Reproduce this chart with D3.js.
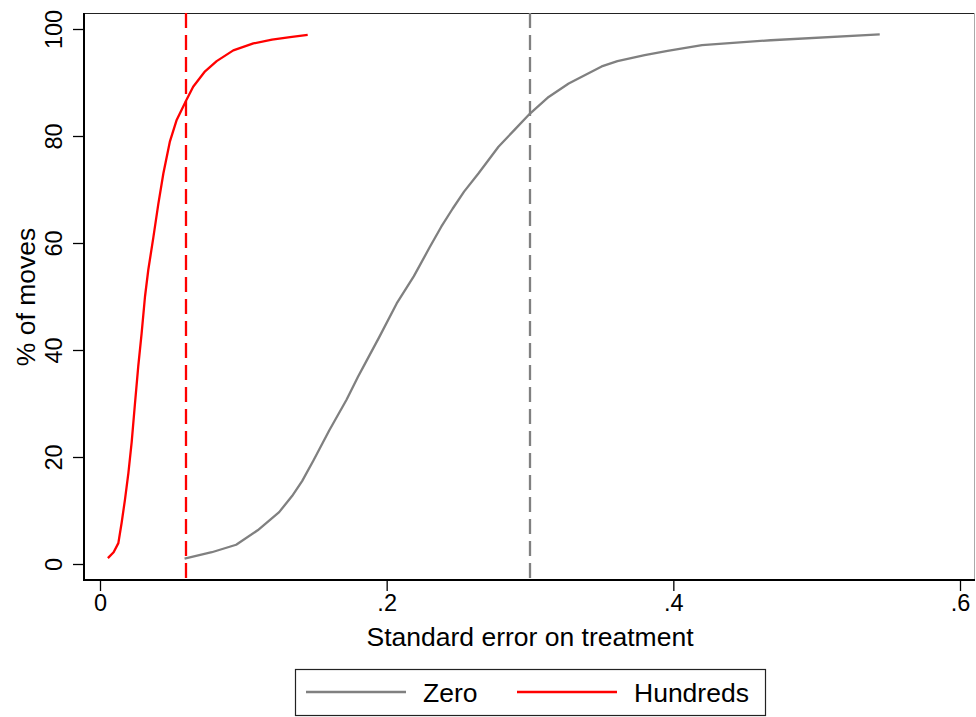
<!DOCTYPE html>
<html lang="en">
<head>
    <meta charset="UTF-8">
    <title>Standard error on treatment</title>
    <script src="https://cdnjs.cloudflare.com/ajax/libs/d3/7.8.5/d3.min.js"></script>
    <style>
        body {
            margin: 0;
            background-color: white;
            font-family: "Liberation Sans", Arial, Helvetica, sans-serif;
        }
        svg { display: block; }
    </style>
</head>
<body>
    <div id="chart"></div>

    <script>
        // Cumulative share of moves by standard error
        const zeroSE = [0.059, 0.078, 0.095, 0.110, 0.125, 0.134, 0.141, 0.149, 0.160, 0.172, 0.180, 0.185,
                        0.195, 0.207, 0.219, 0.230, 0.238, 0.246, 0.254, 0.264, 0.278, 0.289, 0.300, 0.313,
                        0.327, 0.350, 0.361, 0.380, 0.396, 0.420, 0.468, 0.544];
        const zeroPct = [1, 2.2, 3.6, 6.3, 9.7, 12.7, 15.5, 19.4, 25.0, 30.7, 35.0, 37.5,
                         42.5, 48.7, 53.8, 59.2, 63.0, 66.4, 69.6, 73.0, 78.0, 81.1, 84.2, 87.3,
                         89.8, 93.0, 94.0, 95.1, 95.9, 97.0, 97.9, 99.0];

        const hundredsSE = [0.0055, 0.0095, 0.0128, 0.0151, 0.0174, 0.0198, 0.0221, 0.0244, 0.0267, 0.029, 0.0314,
                            0.0337, 0.0372, 0.0407, 0.0442, 0.0488, 0.0535, 0.0602, 0.065, 0.0733, 0.0814,
                            0.093, 0.107, 0.12, 0.1326, 0.1449];
        const hundredsPct = [1.1, 2.2, 3.9, 7.7, 12, 17, 22.8, 30, 37, 43, 50,
                             55, 61, 67.3, 73, 79, 83, 86.7, 89.2, 92.1, 94,
                             96, 97.3, 98, 98.5, 98.9];

        const seriesNames = ["Zero", "Hundreds"];
        const seriesColors = ["#808080", "#ff0000"];
        const refLines = [0.3, 0.06];   // dashed vertical markers, one per series

        const xTicks = [0, 0.2, 0.4, 0.6];
        const xTickLabels = ["0", ".2", ".4", ".6"];
        const yTicks = [0, 20, 40, 60, 80, 100];

        const width = 976, height = 717;
        const plot = { left: 84, right: 975, top: 13, bottom: 580 };

        const svg = d3.select("#chart").append("svg")
            .attr("width", width)
            .attr("height", height);

        const x = d3.scaleLinear().domain([0, 0.6]).range([100, 960]);
        const y = d3.scaleLinear().domain([0, 100]).range([564, 29]);

        // plot region outline (top dark, right light)
        svg.append("line")
            .attr("x1", plot.left).attr("x2", plot.right)
            .attr("y1", plot.top + 0.5).attr("y2", plot.top + 0.5)
            .attr("stroke", "#222").attr("stroke-width", 1.2);
        svg.append("line")
            .attr("x1", plot.right - 0.5).attr("x2", plot.right - 0.5)
            .attr("y1", plot.top).attr("y2", plot.bottom)
            .attr("stroke", "#aaa").attr("stroke-width", 1);

        const series = [
            { name: seriesNames[0], color: seriesColors[0], se: zeroSE, pct: zeroPct, ref: refLines[0] },
            { name: seriesNames[1], color: seriesColors[1], se: hundredsSE, pct: hundredsPct, ref: refLines[1] }
        ];

        // dashed reference lines
        series.forEach(s => {
            svg.append("line")
                .attr("x1", x(s.ref)).attr("x2", x(s.ref))
                .attr("y1", plot.top).attr("y2", plot.bottom)
                .attr("stroke", s.color)
                .attr("stroke-width", 2.3)
                .attr("stroke-dasharray", "15,7");
        });

        // curves
        const line = d3.line()
            .x(d => x(d[0]))
            .y(d => y(d[1]));

        series.forEach(s => {
            svg.append("path")
                .datum(s.se.map((v, i) => [v, s.pct[i]]))
                .attr("d", line)
                .attr("fill", "none")
                .attr("stroke", s.color)
                .attr("stroke-width", 2.3)
                .attr("stroke-linejoin", "round");
        });

        // x axis
        const xAxis = svg.append("g")
            .attr("transform", `translate(0,${plot.bottom})`)
            .call(d3.axisBottom(x).tickValues(xTicks)
                .tickFormat((d, i) => xTickLabels[i]).tickSize(11).tickPadding(3));
        xAxis.select(".domain").remove();
        xAxis.append("line")
            .attr("x1", plot.left).attr("x2", plot.right)
            .attr("stroke", "black").attr("stroke-width", 2);
        xAxis.selectAll(".tick line").attr("stroke", "black").attr("stroke-width", 1.3);
        xAxis.selectAll(".tick text")
            .attr("fill", "black")
            .style("font-size", "23.5px")
            .style("font-family", "'Liberation Sans', Arial, sans-serif");

        // y axis
        const yAxis = svg.append("g")
            .attr("transform", `translate(${plot.left},0)`)
            .call(d3.axisLeft(y).tickValues(yTicks).tickSize(11).tickPadding(0));
        yAxis.select(".domain").remove();
        yAxis.append("line")
            .attr("y1", plot.top).attr("y2", plot.bottom + 1)
            .attr("stroke", "black").attr("stroke-width", 2);
        yAxis.selectAll(".tick line").attr("stroke", "black").attr("stroke-width", 1.3);
        yAxis.selectAll(".tick text")
            .attr("x", null).attr("dy", null)
            .attr("transform", "translate(-22,0) rotate(-90)")
            .attr("text-anchor", "middle")
            .attr("fill", "black")
            .style("font-size", "23.5px")
            .style("font-family", "'Liberation Sans', Arial, sans-serif");

        // axis titles
        svg.append("text")
            .attr("x", 530).attr("y", 646)
            .attr("text-anchor", "middle")
            .style("font-size", "26.5px")
            .text("Standard error on treatment");

        svg.append("text")
            .attr("transform", "translate(35,297) rotate(-90)")
            .attr("text-anchor", "middle")
            .style("font-size", "26.5px")
            .text("% of moves");

        // legend
        const legend = svg.append("g");
        legend.append("rect")
            .attr("x", 295.5).attr("y", 669.5)
            .attr("width", 470).attr("height", 46)
            .attr("fill", "white")
            .attr("stroke", "#222").attr("stroke-width", 1.2);

        const legendX = [306, 517];
        series.forEach((s, i) => {
            legend.append("line")
                .attr("x1", legendX[i]).attr("x2", legendX[i] + 100)
                .attr("y1", 692).attr("y2", 692)
                .attr("stroke", s.color).attr("stroke-width", 2.3);
            legend.append("text")
                .attr("x", legendX[i] + 117).attr("y", 702)
                .style("font-size", "26.5px")
                .text(s.name);
        });
    </script>
</body>
</html>
